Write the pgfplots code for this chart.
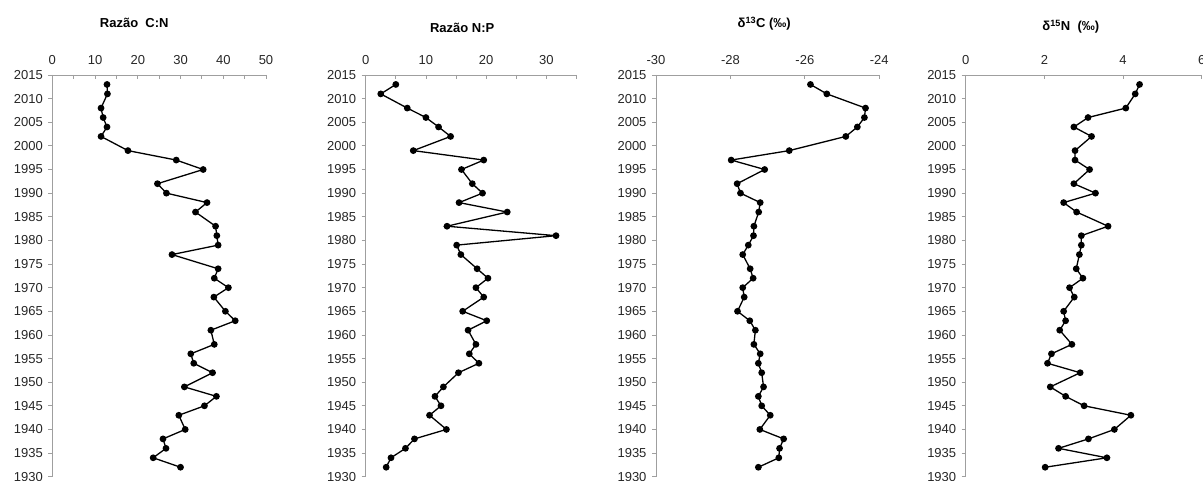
\documentclass[border=0pt]{standalone}
\usepackage{pgfplots}
\usepackage{pgfplotstable}
\pgfplotsset{compat=1.18}
\usepackage{fontspec}
\setmainfont{Liberation Sans}
\pgfplotstableread{
year cn np c13 n15
2013 12.8 5.0 -25.85 4.42
2011 12.9 2.5 -25.41 4.31
2008 11.4 6.9 -24.37 4.07
2006 11.9 10.0 -24.40 3.11
2004 12.8 12.1 -24.59 2.75
2002 11.4 14.1 -24.90 3.20
1999 17.7 7.9 -26.42 2.78
1997 29.0 19.6 -27.98 2.78
1995 35.3 15.9 -27.08 3.15
1992 24.6 17.7 -27.82 2.75
1990 26.7 19.4 -27.73 3.30
1988 36.2 15.5 -27.20 2.49
1986 33.5 23.5 -27.24 2.82
1983 38.2 13.5 -27.37 3.62
1981 38.5 31.6 -27.38 2.94
1979 38.8 15.1 -27.52 2.94
1977 28.0 15.8 -27.67 2.89
1974 38.8 18.5 -27.47 2.81
1972 37.9 20.3 -27.39 2.98
1970 41.2 18.3 -27.67 2.64
1968 37.8 19.6 -27.63 2.76
1965 40.5 16.1 -27.81 2.49
1963 42.8 20.1 -27.48 2.54
1961 37.1 17.0 -27.33 2.39
1958 37.9 18.3 -27.37 2.70
1956 32.4 17.2 -27.20 2.18
1954 33.1 18.8 -27.25 2.08
1952 37.5 15.4 -27.16 2.91
1949 30.9 12.9 -27.11 2.15
1947 38.4 11.5 -27.25 2.54
1945 35.6 12.5 -27.16 3.01
1943 29.6 10.6 -26.93 4.20
1940 31.1 13.4 -27.21 3.78
1938 25.9 8.1 -26.57 3.12
1936 26.6 6.6 -26.68 2.36
1934 23.6 4.2 -26.70 3.59
1932 30.0 3.4 -27.25 2.02
}\datatable
\begin{document}
\begin{tikzpicture}
\path[use as bounding box] (0pt,0pt) rectangle (1203pt,480pt);
\pgfplotsset{
 panel/.style={
  scale only axis, height=401.7pt,
  ymin=1930, ymax=2015, ytick={1930,1935,...,2015},
  axis x line*=top, axis y line*=left,
  axis line style={draw=gray!75, line width=0.8pt},
  tick style={draw=gray!75, line width=0.8pt},
  major tick length=4pt, minor tick length=4pt,
  xtick align=inside, ytick align=outside,
  /pgf/number format/assume math mode=true,
  /pgf/number format/1000 sep={},
  tick label style={font=\fontsize{13}{15}\selectfont, text=black!85},
  xticklabel style={yshift=7pt},
  yticklabel style={xshift=-2pt},
  anchor=north west,
  clip=false,
 },
 ser/.style={black, line width=1.3pt, mark=*, mark size=2.7pt, mark options={fill=black, solid}},
}
\begin{axis}[panel, at={(52.3pt,405pt)}, width=213.7pt, xmin=0, xmax=50,
  xtick={0,10,...,50}, minor xtick={5,15,...,45}]
\addplot[ser] table[x=cn, y=year] {\datatable};
\end{axis}
\begin{axis}[panel, at={(365.7pt,405pt)}, width=210.8pt, xmin=0, xmax=35,
  xtick={0,10,20,30}, minor xtick={5,15,25,35}]
\addplot[ser] table[x=np, y=year] {\datatable};
\end{axis}
\begin{axis}[panel, at={(656pt,405pt)}, width=223.3pt, xmin=-30, xmax=-24,
  xtick={-30,-28,-26,-24}]
\addplot[ser] table[x=c13, y=year] {\datatable};
\end{axis}
\begin{axis}[panel, at={(965.7pt,405pt)}, width=236pt, xmin=0, xmax=6,
  xtick={0,2,4,6}]
\addplot[ser] table[x=n15, y=year] {\datatable};
\end{axis}
\node[font=\bfseries\fontsize{13}{15}\selectfont] at (134.3pt,457pt) {Razão\ \ C:N};
\node[font=\bfseries\fontsize{13}{15}\selectfont] at (462.2pt,452.5pt) {Razão N:P};
\node[font=\bfseries\fontsize{13}{15}\selectfont] at (764.2pt,456.5pt) {δ\textsuperscript{13}C (‰)};
\node[font=\bfseries\fontsize{13}{15}\selectfont] at (1070.8pt,453.5pt) {δ\textsuperscript{15}N\ \ (‰)};
\end{tikzpicture}
\end{document}
